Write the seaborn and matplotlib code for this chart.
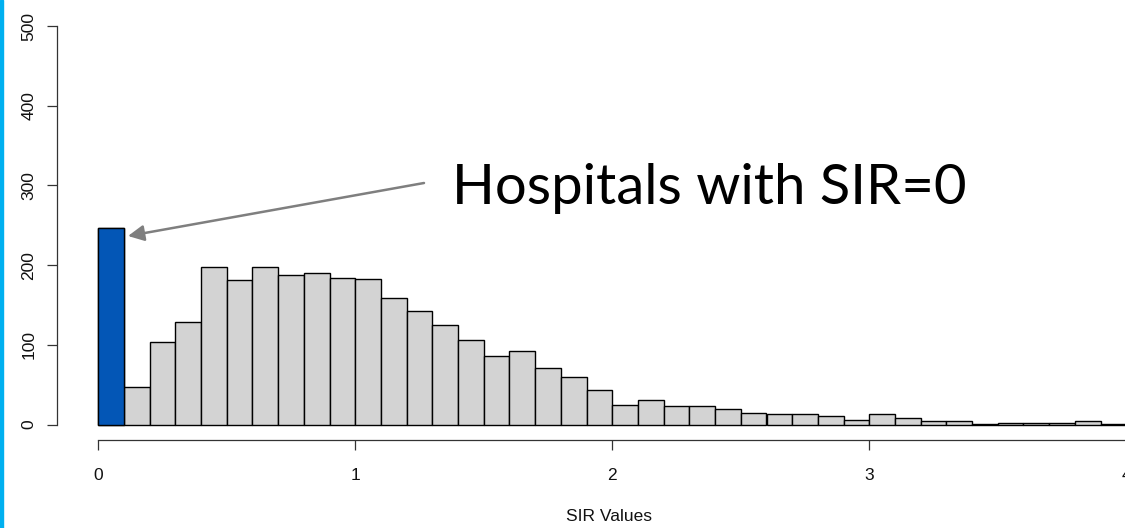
import numpy as np
import pandas as pd
import matplotlib
matplotlib.use("Agg")
import matplotlib.pyplot as plt
import seaborn as sns
from matplotlib.patches import Rectangle

# ---- data ----
bin_width = 0.1
bin_starts = [round(i * 0.1, 1) for i in range(40)]
counts = [247, 47, 104, 129, 197, 181, 198, 188, 190, 184,
          182, 159, 143, 125, 106, 86, 92, 71, 59, 43,
          25, 31, 23, 23, 19, 15, 13, 13, 11, 6,
          13, 8, 4, 4, 1, 2, 2, 2, 4, 1]
x_ticks = [0, 1, 2, 3, 4]
y_ticks = [0, 100, 200, 300, 400, 500]
x_label = "SIR Values"
annotation = "Hospitals with SIR=0"

sns.set_theme(style="white")
plt.rcParams['font.family'] = ['Liberation Sans', 'DejaVu Sans']

W, H = 1125, 528
fig = plt.figure(figsize=(W / 100, H / 100), dpi=100)

# axes placement in pixels
left_px, right_px, top_px, bottom_px = 57, 1160, 20, 440
ax = fig.add_axes([left_px / W, (H - bottom_px) / H,
                   (right_px - left_px) / W, (bottom_px - top_px) / H])

df = pd.DataFrame({"sir": [s + bin_width / 2 for s in bin_starts], "n": counts})
edges = [s for s in bin_starts] + [bin_starts[-1] + bin_width]

sns.histplot(data=df, x="sir", weights="n", bins=edges, ax=ax,
             color="#D3D3D3", alpha=1.0, edgecolor="black", linewidth=1.0)
first = df.iloc[[0]]
sns.histplot(data=first, x="sir", weights="n", bins=edges[:2], ax=ax,
             color="#0356B6", alpha=1.0, edgecolor="black", linewidth=1.0)

# data <-> pixel mapping
x0_px, px_per_x = 98.3, 257.0
y0_px, px_per_y = 424.5, 0.797
ax.set_xlim((left_px - x0_px) / px_per_x, (right_px - x0_px) / px_per_x)
ax.set_ylim((y0_px - bottom_px) / px_per_y, (y0_px - top_px) / px_per_y)

ax.set_xticks(x_ticks)
ax.set_yticks(y_ticks)
ax.set_xticklabels([str(t) for t in x_ticks])
ax.set_yticklabels([str(t) for t in y_ticks], rotation=90, va="center")
ax.tick_params(axis="both", which="both", direction="out", length=7,
               width=0.9, color="#333333", labelsize=12.5, labelcolor="#111111")
ax.tick_params(axis="x", pad=13, bottom=True)
ax.tick_params(axis="y", pad=8, left=True)
for side in ["top", "right"]:
    ax.spines[side].set_visible(False)
ax.spines["left"].set_bounds(0, 500)
ax.spines["bottom"].set_bounds(0, 4.2)
for side in ["left", "bottom"]:
    ax.spines[side].set_color("#333333")
    ax.spines[side].set_linewidth(0.9)
ax.set_xlabel(x_label, fontsize=12.5, labelpad=19, color="#111111")
ax.set_ylabel("")
ax.grid(False)
ax.patch.set_alpha(0)

# annotation arrow and text
tip = ((128 - x0_px) / px_per_x, (y0_px - 236) / px_per_y)
tail = ((424 - x0_px) / px_per_x, (y0_px - 183) / px_per_y)
ax.annotate("", xy=tip, xytext=tail,
            arrowprops=dict(arrowstyle="-|>", color="#7F7F7F", lw=1.8,
                            mutation_scale=24, shrinkA=0, shrinkB=0))
ax.text((452 - x0_px) / px_per_x, (y0_px - 204) / px_per_y, annotation,
        fontsize=40.5, family=["Lato", "DejaVu Sans"], color="black",
        va="baseline", ha="left")

# cyan slide border on left
fig.patches.append(Rectangle((0, 0), 3 / W, 1, transform=fig.transFigure,
                             color="#00B0F0", zorder=10))

fig.savefig("out.png", dpi=100)
